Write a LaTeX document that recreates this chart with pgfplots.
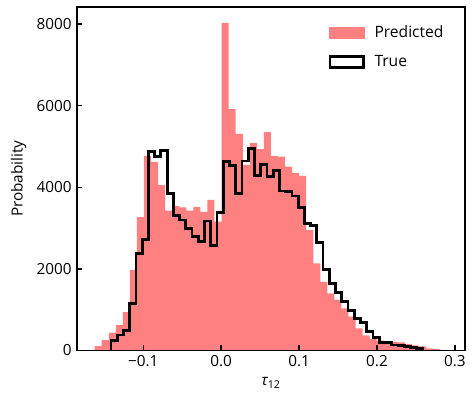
\documentclass[border=0pt]{standalone}
\usepackage{fontspec}
\setmainfont{Open Sans}
\usepackage{pgfplots}
\pgfplotsset{compat=1.18}
\definecolor{predred}{RGB}{255,128,128}

\begin{document}
\fontsize{15.3pt}{18pt}\selectfont
\begin{tikzpicture}
\useasboundingbox (-77pt,-52.5pt) rectangle (398pt,350.5pt);
\begin{axis}[
    at={(0pt,0pt)}, anchor=south west,
    scale only axis,
    width=388pt, height=343.5pt,
    xmin=-0.1851, xmax=0.313,
    ymin=0, ymax=8420,
    axis on top,
    axis line style={line width=1.6pt},
    tick style={line width=1.4pt, black},
    major tick length=5pt,
    tick align=inside,
    tick pos=left,
    xtick={-0.1,0,0.1,0.2,0.3},
    xticklabels={−0.1,0.0,0.1,0.2,0.3},
    ytick={0,2000,4000,6000,8000},
    yticklabels={0,2000,4000,6000,8000},
    xlabel={\itshape τ\textsubscript{\upshape 12}},
    ylabel={Probability},
    legend style={draw=none, fill=none, at={(0.64,0.957)}, anchor=north west,
        row sep=11pt, font=\fontsize{15.6pt}{18pt}\selectfont},
    legend cell align=left,
]
\addplot[ybar interval, fill=predred, draw=none,
    legend image code/.code={\fill[predred] (0pt,-6pt) rectangle (36pt,6pt);}]
coordinates {
(-0.1624,110) (-0.1534,257) (-0.1443,436) (-0.1353,625) (-0.1262,940)
(-0.1172,1973) (-0.1081,3272) (-0.0991,4767) (-0.0900,4620) (-0.0810,4056)
(-0.0719,3426) (-0.0629,3541) (-0.0538,3510) (-0.0448,3426) (-0.0357,3517)
(-0.0267,3400) (-0.0176,3689) (-0.0086,3157) (0.0005,8030) (0.0096,5920)
(0.0186,5310) (0.0277,4550) (0.0367,5080) (0.0458,4935) (0.0548,5355)
(0.0639,4767) (0.0729,4750) (0.0820,4505) (0.0910,4355) (0.1001,4280)
(0.1091,2953) (0.1182,2137) (0.1272,1680) (0.1363,1402) (0.1453,1238)
(0.1544,1034) (0.1634,829) (0.1725,540) (0.1815,368) (0.1906,285)
(0.1996,240) (0.2087,216) (0.2177,210) (0.2268,200) (0.2358,155)
(0.2449,127) (0.2539,103) (0.2630,54) (0.2720,33) (0.2811,0)
};
\addlegendentry{\hspace{8pt}Predicted}
\addplot[const plot, black, line width=2.8pt, line join=miter,
    legend image code/.code={\draw[black, line width=2.8pt] (1.4pt,-5.5pt) rectangle (34.6pt,5.5pt);}]
coordinates {
(-0.1415,0) (-0.1415,250) (-0.1335,380) (-0.1254,495) (-0.1174,1160)
(-0.1094,2375) (-0.1014,2730) (-0.0934,4873) (-0.0854,4760) (-0.0774,4905)
(-0.0694,3853) (-0.0614,3315) (-0.0534,3199) (-0.0454,2995) (-0.0374,2790)
(-0.0293,2663) (-0.0213,3176) (-0.0133,2583) (-0.0053,3374) (0.0027,4642)
(0.0107,4540) (0.0187,3840) (0.0267,4645) (0.0347,4955) (0.0427,4290)
(0.0507,4555) (0.0588,4270) (0.0668,4415) (0.0748,3910) (0.0828,3905)
(0.0908,3787) (0.0988,3510) (0.1068,3117) (0.1148,3068) (0.1228,2642)
(0.1308,1990) (0.1389,1647) (0.1469,1426) (0.1549,1197) (0.1629,976)
(0.1709,780) (0.1789,681) (0.1869,461) (0.1949,323) (0.2029,200)
(0.2109,190) (0.2189,135) (0.2269,130) (0.2349,93) (0.2430,80)
(0.2510,54) (0.2590,54) (0.2590,0)
};
\addlegendentry{\hspace{8pt}True}
\end{axis}
\end{tikzpicture}
\end{document}
